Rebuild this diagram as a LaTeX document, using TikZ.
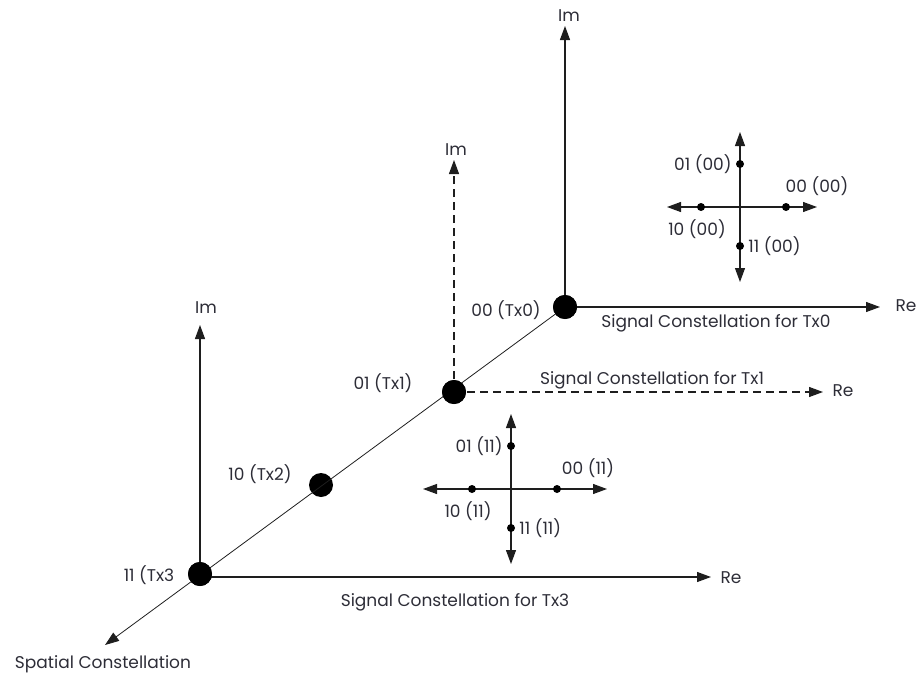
\documentclass[tikz,border=0pt]{standalone}
\usepackage{fontspec}
\setmainfont{Poppins}
\usetikzlibrary{arrows.meta,positioning}
\definecolor{axisgray}{RGB}{30,30,30}
\definecolor{txtgray}{RGB}{45,45,55}

\begin{document}
\begin{tikzpicture}[x=1pt,y=-1pt,
  ax/.style={-{Triangle[length=14pt,width=10pt]},line width=1.1pt,axisgray},
  bigdot/.style={circle,fill=black,inner sep=0pt,minimum size=24pt},
  smalldot/.style={circle,fill=black,inner sep=0pt,minimum size=8pt},
  lbl/.style={font=\fontsize{17}{19}\selectfont,text=txtgray,inner sep=0pt}]
\useasboundingbox (0,0) rectangle (919,680);

% spatial axis and transmit antennas
\node[bigdot] (tx0) at (565,307) {};
\node[bigdot] (tx1) at (454,392) {};
\node[bigdot] (tx2) at (321,485) {};
\node[bigdot] (tx3) at (200,574) {};
\coordinate (spat) at (105,645);
\draw[ax,line width=0.8pt] (tx0.center) -- (spat);
\node[lbl] (spatlbl) at (103,664) {Spatial Constellation};

% signal axes of Tx0, Tx1, Tx3
\coordinate (imA) at (565,26);   \coordinate (reA) at (880,307);
\coordinate (imB) at (454,160);  \coordinate (reB) at (823,392);
\coordinate (imC) at (200,325);  \coordinate (reC) at (711,577);
\draw[ax] (tx0.center) -- (imA);
\draw[ax] (tx0.center) -- (reA);
\draw[ax,dash pattern=on 8pt off 5pt] (tx1.center) -- (imB);
\draw[ax,dash pattern=on 8pt off 5pt] (tx1.center) -- (reB);
\draw[ax] (tx3.center) -- (imC);
\draw[ax] (tx3.center) |- (reC);
\node[bigdot] at (tx0) {};
\node[bigdot] at (tx1) {};
\node[bigdot] at (tx3) {};

\node[lbl] (imAl) at (569,16) {Im};
\node[lbl] (reAl) at (906,306) {Re};
\node[lbl] (imBl) at (456,150) {Im};
\node[lbl] (reBl) at (843,391) {Re};
\node[lbl] (imCl) at (206,308) {Im};
\node[lbl] (reCl) at (731,578) {Re};

\node[lbl] (tx0l) at (506,310) {00 (Tx0)};
\node[lbl] (tx1l) at (383,383) {01 (Tx1)};
\node[lbl] (tx2l) at (260,474) {10 (Tx2)};
\node[lbl] (tx3l) at (149,575) {11 (Tx3};

\node[lbl] (sc0) at (716,323) {Signal Constellation for Tx0};
\node[lbl] (sc1) at (652,380) {Signal Constellation for Tx1};
\node[lbl] (sc3) at (455,602) {Signal Constellation for Tx3};

% small constellations
\foreach \n/\cx/\cy/\wl/\wr/\b in {q0/740/207/73/77/00,q1/511/489/88/96/11}{
  \coordinate (\n) at (\cx,\cy);
  \coordinate (\n t) at (\cx,\cy-75);
  \coordinate (\n b) at (\cx,\cy+75);
  \coordinate (\n l) at (\cx-\wl,\cy);
  \coordinate (\n r) at (\cx+\wr,\cy);
  \draw[ax] (\n) -- (\n t);
  \draw[ax] (\n) -- (\n b);
  \draw[ax] (\n) -- (\n l);
  \draw[ax] (\n) -- (\n r);
  \node[smalldot] (\n a) at (\cx,\cy-43) {};
  \node[smalldot] (\n c) at (\cx+46,\cy) {};
  \node[smalldot] (\n d) at (\cx-39,\cy) {};
  \node[smalldot] (\n e) at (\cx,\cy+39) {};
  \node[lbl,left=4pt of \n a] (\n al) {01 (\b)};
  \node[lbl] (\n cl) at (\cx+77,\cy-21) {00 (\b)};
  \node[lbl] (\n dl) at (\cx-43,\cy+22) {10 (\b)};
  \node[lbl,right=4pt of \n e] (\n el) {11 (\b)};
}
\end{tikzpicture}
\end{document}
